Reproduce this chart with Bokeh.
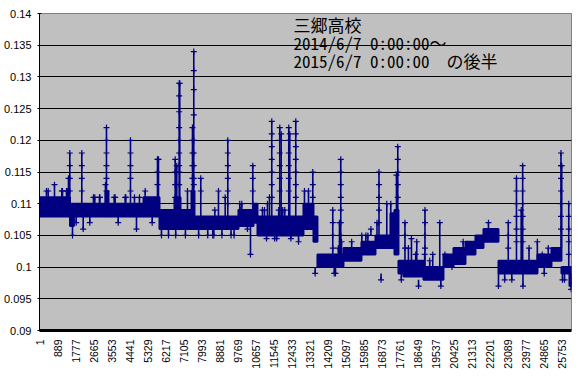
from bokeh.plotting import figure
from bokeh.models import Range1d, FixedTicker, NumeralTickFormatter, Label
from bokeh.embed import file_html
from bokeh.resources import INLINE
from math import pi

# ---- data (sample index, value) ----
x_tick_labels = [1, 889, 1777, 2665, 3553, 4441, 5329, 6217, 7105, 7993, 8881, 9769,
                 10657, 11545, 12433, 13321, 14209, 15097, 15985, 16873, 17761, 18649,
                 19537, 20425, 21313, 22201, 23089, 23977, 24865, 25753]
y_ticks = [0.09, 0.095, 0.1, 0.105, 0.11, 0.115, 0.12, 0.125, 0.13, 0.135, 0.14]
n_samples = 26245

# dense band of the series: start index, end index, lowest and highest value
band_start = [1, 1505, 1700, 3256, 3404, 5130, 5772, 5920, 6660, 6956, 7498, 7646,
              9817, 10557, 10754, 13023, 13516, 13713, 14996, 15884, 16575, 17315,
              17512, 17709, 17956, 18943, 19929, 20423, 21015, 21508, 21903, 22643,
              24566, 25257, 25750, 26145]
band_end = [1505, 1700, 3256, 3404, 5130, 5772, 5920, 6660, 6956, 7498, 7646, 9817,
            10557, 10754, 13023, 13516, 13713, 14996, 15884, 16575, 17315, 17512,
            17709, 17956, 18943, 19929, 20423, 21015, 21508, 21903, 22643, 24566,
            25257, 25750, 26145, 26245]
band_low = [0.108, 0.1065, 0.108, 0.108, 0.108, 0.108, 0.108, 0.106, 0.106, 0.106,
            0.106, 0.106, 0.1065, 0.107, 0.105, 0.106, 0.104, 0.100, 0.101, 0.102,
            0.103, 0.103, 0.102, 0.099, 0.0985, 0.098, 0.100, 0.1005, 0.102, 0.103,
            0.104, 0.099, 0.100, 0.101, 0.099, 0.097]
band_high = [0.111, 0.110, 0.110, 0.112, 0.110, 0.111, 0.111, 0.109, 0.111, 0.109,
             0.112, 0.108, 0.109, 0.110, 0.108, 0.110, 0.108, 0.102, 0.103, 0.104,
             0.105, 0.1085, 0.109, 0.101, 0.101, 0.100, 0.102, 0.103, 0.104, 0.105,
             0.106, 0.101, 0.102, 0.103, 0.100, 0.100]

# excursions leaving the band: index, value where it leaves, extreme value
spike_idx = [740, 1431, 1495, 1628, 2087, 3256, 3305, 4489, 4785, 5821, 5870, 6694,
             6773, 6891, 6921, 7301, 7547, 7612, 7957, 8830, 9161, 9289, 9980, 10409,
             10522, 11247, 11346, 11459, 11854, 11923, 12298, 12347, 12643, 13072,
             13270, 13482, 14468, 14602, 14799, 14863, 16650, 16748, 17133, 17330,
             17611, 17675, 18030, 18612, 19017, 19747, 22149, 22643, 23126, 23531,
             23763, 23836, 23851, 25726, 25764, 26110, 26229,
             345, 1100, 1396, 1810, 2664, 2960, 3734, 4228, 5214, 6018, 6364, 7850,
             8550, 9600, 11000, 12000, 15400, 16200, 20900, 24800, 25100,
             430, 1135, 1332, 2728, 2975, 3685, 4257, 4686, 4933, 2156, 2482, 3883,
             5560, 6720, 7200, 8300, 8600, 9000, 9450, 9930, 8650, 9880, 10260,
             11100, 11800, 12100, 11200, 11600, 11700, 12400, 12780, 13600, 14540,
             14740, 14900, 15200, 15900, 16100, 16350, 16850, 17850, 18200, 18350,
             18560, 18700, 19000, 19250, 19400, 19800, 20000, 20350, 22950, 23300,
             23630, 24150, 24560, 24900, 25050, 25800, 25900]
spike_base = [0.111, 0.110, 0.110, 0.107, 0.110, 0.110, 0.111, 0.110, 0.108, 0.110,
              0.110, 0.109, 0.109, 0.109, 0.109, 0.109, 0.109, 0.109, 0.108, 0.108,
              0.108, 0.108, 0.108, 0.107, 0.108, 0.108, 0.108, 0.108, 0.108, 0.108,
              0.108, 0.108, 0.108, 0.110, 0.110, 0.110, 0.102, 0.100, 0.102, 0.102,
              0.105, 0.105, 0.105, 0.105, 0.108, 0.108, 0.101, 0.101, 0.100, 0.100,
              0.106, 0.099, 0.101, 0.101, 0.101, 0.101, 0.099, 0.103, 0.103, 0.100,
              0.099,
              0.111, 0.111, 0.111, 0.108, 0.110, 0.110, 0.110, 0.110, 0.111, 0.106,
              0.106, 0.106, 0.106, 0.106, 0.108, 0.108, 0.103, 0.104, 0.103, 0.101,
              0.102,
              0.111, 0.111, 0.111, 0.110, 0.110, 0.110, 0.110, 0.110, 0.110, 0.108,
              0.108, 0.108,
              0.108, 0.106, 0.106, 0.106, 0.106, 0.106, 0.106, 0.108, 0.108, 0.108,
              0.107,
              0.108, 0.108, 0.108, 0.105, 0.105, 0.105, 0.105, 0.106, 0.100, 0.100,
              0.102, 0.101, 0.101, 0.102, 0.102, 0.105, 0.099, 0.101, 0.101, 0.099,
              0.101, 0.098, 0.100, 0.100, 0.098, 0.098, 0.100, 0.101, 0.099, 0.099,
              0.101, 0.099, 0.100, 0.100, 0.102, 0.099, 0.099]
spike_peak = [0.113, 0.114, 0.118, 0.105, 0.118, 0.113, 0.122, 0.120, 0.106, 0.117,
              0.117, 0.117, 0.116, 0.129, 0.129, 0.112, 0.122, 0.134, 0.114, 0.112,
              0.111, 0.120, 0.110, 0.102, 0.116, 0.110, 0.111, 0.123, 0.122, 0.121,
              0.122, 0.121, 0.123, 0.112, 0.112, 0.115, 0.109, 0.099, 0.107, 0.117,
              0.107, 0.115, 0.110, 0.110, 0.1145, 0.119, 0.107, 0.104, 0.109, 0.107,
              0.107, 0.097, 0.107, 0.114, 0.109, 0.116, 0.097, 0.118, 0.116, 0.110,
              0.0965,
              0.112, 0.112, 0.112, 0.107, 0.111, 0.111, 0.111, 0.111, 0.112, 0.105,
              0.105, 0.105, 0.105, 0.105, 0.109, 0.109, 0.104, 0.105, 0.104, 0.102,
              0.103,
              0.112, 0.112, 0.112, 0.111, 0.111, 0.111, 0.111, 0.111, 0.111, 0.106,
              0.107, 0.107,
              0.107, 0.105, 0.105, 0.105, 0.105, 0.105, 0.105, 0.109, 0.109, 0.110,
              0.106,
              0.109, 0.109, 0.109, 0.1045, 0.1045, 0.1045, 0.1045, 0.104, 0.099, 0.099,
              0.103, 0.104, 0.102, 0.105, 0.105, 0.106, 0.098, 0.098, 0.103, 0.1045,
              0.102, 0.097, 0.102, 0.101, 0.102, 0.097, 0.102, 0.100, 0.098, 0.098,
              0.100, 0.103, 0.104, 0.099, 0.101, 0.098, 0.098]

# individual readings plotted along the tall excursions
mark_idx = [1495, 1495, 1495, 2087, 2087, 2087, 3305, 3305, 3305, 3305, 3305,
            4489, 4489, 4489, 4489, 5821, 5821, 6694, 6694, 6694,
            6891, 6891, 6891, 6891, 6891, 6891, 6891, 6891,
            7547, 7547, 7547, 7547, 7547,
            7612, 7612, 7612, 7612, 7612, 7612, 7612, 7612,
            7957, 9289, 9289, 9289, 9289, 9289, 10522, 10522, 10522,
            11459, 11459, 11459, 11459, 11459, 11459,
            11854, 11854, 11854, 11854, 11854, 11854,
            12298, 12298, 12298, 12298, 12298,
            12643, 12643, 12643, 12643, 12643, 12643, 13482, 13482,
            14863, 14863, 14863, 14863, 14863, 14863,
            16748, 16748, 16748, 16748, 17675, 17675, 17675, 17675,
            19017, 19017, 19017, 23531, 23531, 23531, 23531, 23531,
            23836, 23836, 23836, 23836, 23836, 23836,
            25726, 25726, 25726, 25726, 25726, 25726,
            18030, 18030, 23126, 23126, 14468, 14468, 14468,
            26110, 26110, 26110, 26110]
mark_val = [0.116, 0.114, 0.112, 0.116, 0.114, 0.112, 0.120, 0.118, 0.116, 0.114, 0.112,
            0.118, 0.116, 0.114, 0.112, 0.115, 0.113, 0.115, 0.113, 0.111,
            0.127, 0.1245, 0.122, 0.120, 0.118, 0.116, 0.115, 0.113,
            0.120, 0.118, 0.116, 0.114, 0.112,
            0.131, 0.128, 0.124, 0.120, 0.118, 0.116, 0.114, 0.113,
            0.112, 0.118, 0.116, 0.114, 0.112, 0.110, 0.114, 0.112, 0.110,
            0.121, 0.119, 0.117, 0.115, 0.113, 0.111,
            0.120, 0.118, 0.116, 0.114, 0.112, 0.110,
            0.120, 0.118, 0.116, 0.114, 0.112,
            0.121, 0.119, 0.117, 0.115, 0.113, 0.111, 0.113, 0.111,
            0.115, 0.113, 0.111, 0.109, 0.107, 0.105,
            0.113, 0.111, 0.109, 0.107, 0.117, 0.115, 0.113, 0.111,
            0.107, 0.105, 0.103, 0.112, 0.110, 0.108, 0.106, 0.104,
            0.114, 0.112, 0.110, 0.108, 0.106, 0.104,
            0.116, 0.114, 0.112, 0.110, 0.108, 0.106,
            0.105, 0.103, 0.105, 0.103, 0.107, 0.105, 0.103,
            0.108, 0.106, 0.104, 0.102]

title_lines = ["三郷高校", "2014/6/7 0:00:00～", "2015/6/7 0:00:00　の後半"]
title_y = [0.1383, 0.1355, 0.1326]
title_x = 12530

NAVY = "#000080"

p = figure(frame_width=532, frame_height=317,
           x_range=Range1d(0.5, n_samples + 0.5), y_range=Range1d(0.09, 0.14),
           output_backend="svg", toolbar_location=None,
           min_border_left=33, min_border_right=6, min_border_top=13,
           min_border_bottom=44)
p.background_fill_color = "#C0C0C0"
p.border_fill_color = "white"
p.outline_line_color = "#808080"
p.outline_line_width = 1

p.xgrid.visible = False
p.ygrid.ticker = FixedTicker(ticks=y_ticks[1:-1])
p.ygrid.grid_line_color = "black"
p.ygrid.grid_line_width = 1

p.quad(left=band_start, right=band_end, bottom=band_low, top=band_high,
       fill_color=NAVY, line_color=NAVY, line_width=2)
p.segment(x0=spike_idx, y0=spike_base, x1=spike_idx, y1=spike_peak,
          line_color=NAVY, line_width=1.6)
p.scatter(x=spike_idx, y=spike_peak, marker="cross", size=6,
          line_color=NAVY, line_width=1.2)
p.scatter(x=mark_idx, y=mark_val, marker="cross", size=6,
          line_color=NAVY, line_width=1.2)

# y axis
p.yaxis.ticker = FixedTicker(ticks=y_ticks)
p.yaxis.formatter = NumeralTickFormatter(format="0.[000]")
p.yaxis.major_label_text_font = "Liberation Sans"
p.yaxis.major_label_text_font_size = "11px"
p.yaxis.major_label_text_color = "black"
p.yaxis.axis_line_color = "black"
p.yaxis.axis_line_width = 1
p.yaxis.major_tick_in = 2
p.yaxis.major_tick_out = 2
p.yaxis.major_tick_line_color = "black"
p.yaxis.minor_tick_line_color = None
p.yaxis.major_label_standoff = 6

# x axis
p.xaxis.ticker = FixedTicker(ticks=x_tick_labels)
p.xaxis.major_label_orientation = pi / 2
p.xaxis.major_label_text_font = "Liberation Sans"
p.xaxis.major_label_text_font_size = "10.5px"
p.xaxis.major_label_text_color = "black"
p.xaxis.axis_line_color = "black"
p.xaxis.axis_line_width = 3
p.xaxis.major_tick_line_color = None
p.xaxis.minor_tick_line_color = None
p.xaxis.major_tick_out = 0
p.xaxis.major_tick_in = 0
p.xaxis.major_label_standoff = 9

for txt, ty in zip(title_lines, title_y):
    p.add_layout(Label(x=title_x, y=ty, text=txt,
                       text_font="'Noto Sans Mono CJK JP', 'Noto Sans CJK JP'",
                       text_font_size="17px", text_color="black",
                       text_baseline="middle", text_align="left"))

open("out.html", "w").write(file_html(p, INLINE))
